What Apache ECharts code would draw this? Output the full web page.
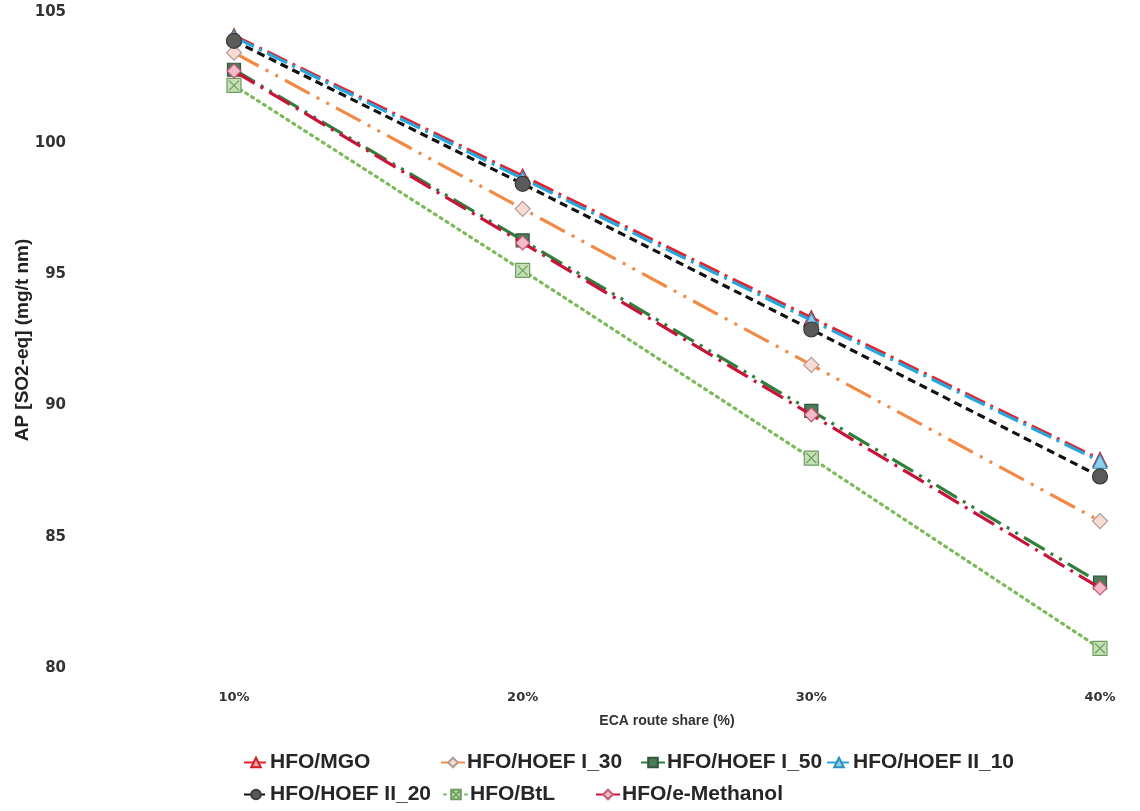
<!DOCTYPE html>
<html><head><meta charset="utf-8">
<script src="https://cdn.jsdelivr.net/npm/echarts@6/dist/echarts.min.js"></script>
<style>html,body{margin:0;padding:0;background:#fff}#c{width:1140px;height:811px}</style>
</head><body><div id="c"></div>
<script>
const categories = ['10%', '20%', '30%', '40%'];
const yTicks = [80, 85, 90, 95, 100, 105];
const hfoMgo      = [104.1, 98.75, 93.35, 87.95];
const hoefI30     = [103.45, 97.5, 91.55, 85.6];
const hoefI50     = [102.8, 96.3, 89.8, 83.25];
const hoefII10    = [104.05, 98.65, 93.25, 87.88];
const hoefII20    = [103.9, 98.45, 92.9, 87.3];
const btl         = [102.2, 95.15, 88.0, 80.75];
const eMethanol   = [102.75, 96.2, 89.65, 83.05];
const seriesNames = ['HFO/MGO', 'HFO/HOEF I_30', 'HFO/HOEF I_50', 'HFO/HOEF II_10', 'HFO/HOEF II_20', 'HFO/BtL', 'HFO/e-Methanol'];

const xBoxSymbol = 'path://M0,0L10,0L10,10L0,10Z M1.5,1.5L8.5,8.5 M8.5,1.5L1.5,8.5';

const styles = [
  {data: hfoMgo, color: '#e8202a', dash: [22, 6, 3, 6], symbol: 'triangle', size: 14, fill: '#f2a0a8', border: '#d01d28'},
  {data: hoefI30, color: '#f28a45', dash: [28, 8, 3, 8, 3, 8], symbol: 'diamond', size: 15, fill: '#f8dcd4', border: '#b09a95'},
  {data: hoefI50, color: '#2f7f3d', dash: [24, 7, 3, 7, 3, 7], symbol: 'rect', size: 13, fill: '#4d7a58', border: '#34563d'},
  {data: hoefII10, color: '#27a6dc', dash: [22, 6, 3, 6], symbol: 'triangle', size: 14, fill: '#8fd0ee', border: '#2a8fc0'},
  {data: hoefII20, color: '#111111', dash: [8, 5], symbol: 'circle', size: 15, fill: '#5a5a5a', border: '#3a3a3a'},
  {data: btl, color: '#7dba5c', dash: [2, 5], symbol: xBoxSymbol, size: 14, fill: '#c4e0b4', border: '#6f9c60'},
  {data: eMethanol, color: '#c8133a', dash: [24, 7, 3, 7], symbol: 'diamond', size: 14, fill: '#f4bccb', border: '#c85a74'}
];

const series = styles.map((s, i) => ({
  name: seriesNames[i],
  type: 'line',
  data: s.data,
  symbol: s.symbol,
  symbolSize: s.size,
  showAllSymbol: true,
  lineStyle: {color: s.color, width: 3.2, type: s.dash, cap: i === 5 ? 'round' : 'butt'},
  itemStyle: {color: s.fill, borderColor: s.border, borderWidth: 1.2},
  emphasis: {disabled: true},
  animation: false,
  z: 2 + i
}));

const legendPos = [
  [243, 752], [440, 752], [640, 752], [826, 752],
  [243, 784], [443, 784], [595, 784]
];
const legends = seriesNames.map((n, i) => ({
  data: [n],
  left: legendPos[i][0],
  top: legendPos[i][1],
  padding: 0,
  itemWidth: 24,
  itemHeight: 12,
  itemGap: 0,
  selectedMode: false,
  textStyle: {fontFamily: 'Liberation Sans', fontWeight: 'bold', fontSize: 21, color: '#262626', padding: [0, 0, 0, -3]}
}));

const chart = echarts.init(document.getElementById('c'), null, {renderer: 'canvas'});
chart.setOption({
  backgroundColor: '#ffffff',
  animation: false,
  legend: legends,
  grid: {left: 234, right: 40, top: 12, bottom: 143, containLabel: false, outerBoundsMode: 'none'},
  xAxis: {
    type: 'category',
    data: categories,
    boundaryGap: false,
    axisLine: {show: false},
    axisTick: {show: false},
    splitLine: {show: false},
    axisLabel: {margin: 23, fontFamily: 'DejaVu Sans', fontWeight: 'bold', fontSize: 13, color: '#333'},
    name: 'ECA route share (%)',
    nameLocation: 'middle',
    nameGap: 46,
    nameMoveOverlap: false,
    nameTextStyle: {fontFamily: 'Liberation Sans', fontWeight: 'bold', fontSize: 14, color: '#333'}
  },
  yAxis: {
    type: 'value',
    min: 80,
    max: 105,
    interval: 5,
    axisLine: {show: false},
    axisTick: {show: false},
    splitLine: {show: false},
    axisLabel: {margin: 168, fontFamily: 'DejaVu Sans', fontWeight: 'bold', fontSize: 15, color: '#333',
      formatter: v => yTicks.includes(v) ? String(v) : ''},
    name: 'AP [SO2-eq] (mg/t nm)',
    nameLocation: 'middle',
    nameGap: 202,
    nameMoveOverlap: false,
    nameTextStyle: {fontFamily: 'Liberation Sans', fontWeight: 'bold', fontSize: 19, color: '#222'}
  },
  series: series
});
</script>
</body></html>
